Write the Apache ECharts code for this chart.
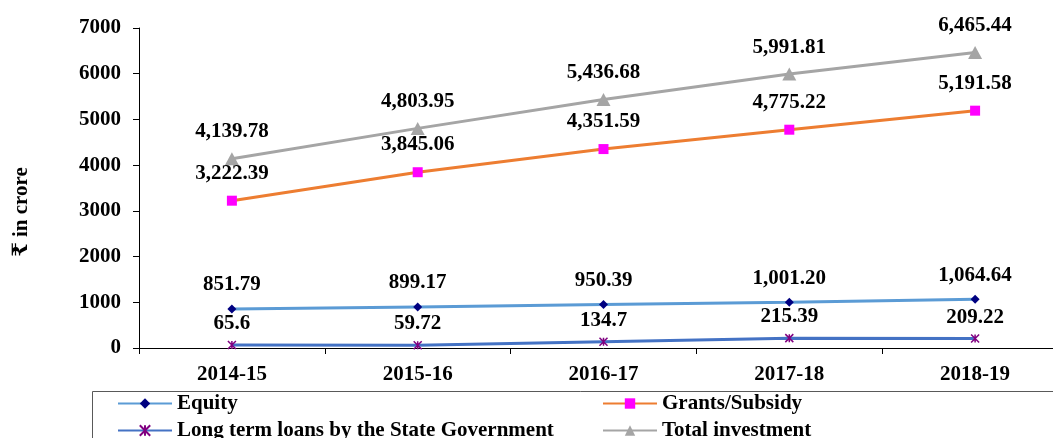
<!DOCTYPE html>
<html>
<head>
<meta charset="utf-8">
<script src="https://cdn.jsdelivr.net/npm/echarts@6/dist/echarts.min.js"></script>
</head>
<body style="margin:0;width:1053px;height:438px;background:#fff;overflow:hidden">
<!-- plot runs past the right edge in the reference, so the canvas is a bit wider than the window -->
<div id="container" style="width:1068px;height:438px"></div>
<script type="text/javascript">
var years = ['2014-15', '2015-16', '2016-17', '2017-18', '2018-19'];
var equity = [851.79, 899.17, 950.39, 1001.20, 1064.64];
var grants = [3222.39, 3845.06, 4351.59, 4775.22, 5191.58];
var loans = [65.6, 59.72, 134.7, 215.39, 209.22];
var total = [4139.78, 4803.95, 5436.68, 5991.81, 6465.44];
var yTicks = [0, 1000, 2000, 3000, 4000, 5000, 6000, 7000];

var FONT = "'Liberation Serif', 'Times New Roman', 'DejaVu Serif', 'Noto Sans', serif";

// labels like Excel: thousands separator, keep decimals as given
function fmt(v) {
  var s = String(v);
  if (v === 1001.2) s = '1001.20';
  var parts = s.split('.');
  parts[0] = parts[0].replace(/\B(?=(\d{3})+(?!\d))/g, ',');
  return parts.join('.');
}

function lbl(dist) {
  return {
    show: true, position: 'top', distance: dist,
    formatter: function (p) { return fmt(p.value); },
    fontFamily: FONT, fontWeight: 'bold', fontSize: 21, color: '#000'
  };
}

// one legend per item so each sits where the reference puts it
function leg(name, x, y) {
  return {
    left: x, top: y, padding: 0, itemWidth: 54, itemHeight: 13,
    textStyle: { fontFamily: FONT, fontWeight: 'bold', fontSize: 21, lineHeight: 21, color: '#000' },
    data: [name]
  };
}

var dom = document.getElementById('container');
var myChart = echarts.init(dom);

var option = {
  animation: false,
  grid: { left: 139, right: 0, top: 28, bottom: 90, containLabel: false },
  xAxis: {
    type: 'category',
    data: years,
    boundaryGap: true,
    axisLine: { lineStyle: { color: '#000', width: 1 } },
    axisTick: { show: true, length: 6, lineStyle: { color: '#000' } },
    axisLabel: { margin: 16, fontFamily: FONT, fontWeight: 'bold', fontSize: 21, color: '#000' },
    splitLine: { show: false }
  },
  yAxis: {
    type: 'value',
    min: yTicks[0],
    max: yTicks[yTicks.length - 1],
    interval: 1000,
    axisLine: { show: true, lineStyle: { color: '#000', width: 1 } },
    axisTick: { show: true, length: 6, lineStyle: { color: '#000' } },
    axisLabel: {
      margin: 18, fontFamily: FONT, fontWeight: 'bold', fontSize: 21, color: '#000',
      formatter: function (v) { return String(v); }
    },
    splitLine: { show: false }
  },
  legend: [
    leg('Equity', 117, 393),
    leg('Long term loans by the State Government', 117, 420),
    leg('Grants/Subsidy', 602, 393),
    leg('Total investment', 602, 420)
  ],
  graphic: [{
    type: 'rect', left: 90, top: 389, silent: true,
    shape: { width: 1000, height: 80 },
    style: { fill: 'none', stroke: '#595959', lineWidth: 1 }
  }, {
    type: 'text', x: 22, y: 212, rotation: Math.PI / 2, silent: true,
    style: {
      text: '₹ in crore', fontFamily: FONT, fontWeight: 'bold', fontSize: 21,
      fill: '#000', align: 'center', verticalAlign: 'middle'
    }
  }],
  series: [{
    name: 'Equity', type: 'line', data: equity,
    symbol: 'diamond', symbolSize: 9,
    lineStyle: { color: '#5B9BD5', width: 3 },
    itemStyle: { color: '#000080' },
    label: lbl(9)
  }, {
    name: 'Grants/Subsidy', type: 'line', data: grants,
    symbol: 'rect', symbolSize: 10,
    lineStyle: { color: '#ED7D31', width: 3 },
    itemStyle: { color: '#FF00FF' },
    label: lbl(12)
  }, {
    name: 'Long term loans by the State Government', type: 'line', data: loans,
    symbol: 'path://M0,0L10,10M10,0L0,10M5,0L5,10', symbolSize: 8,
    lineStyle: { color: '#4472C4', width: 3 },
    itemStyle: { color: '#800080', borderColor: '#800080', borderWidth: 1.5 },
    label: lbl(6)
  }, {
    name: 'Total investment', type: 'line', data: total,
    symbol: 'triangle', symbolSize: [14, 13],
    lineStyle: { color: '#A5A5A5', width: 3 },
    itemStyle: { color: '#A5A5A5' },
    label: lbl(10)
  }]
};

myChart.setOption(option, true);
</script>
</body>
</html>
